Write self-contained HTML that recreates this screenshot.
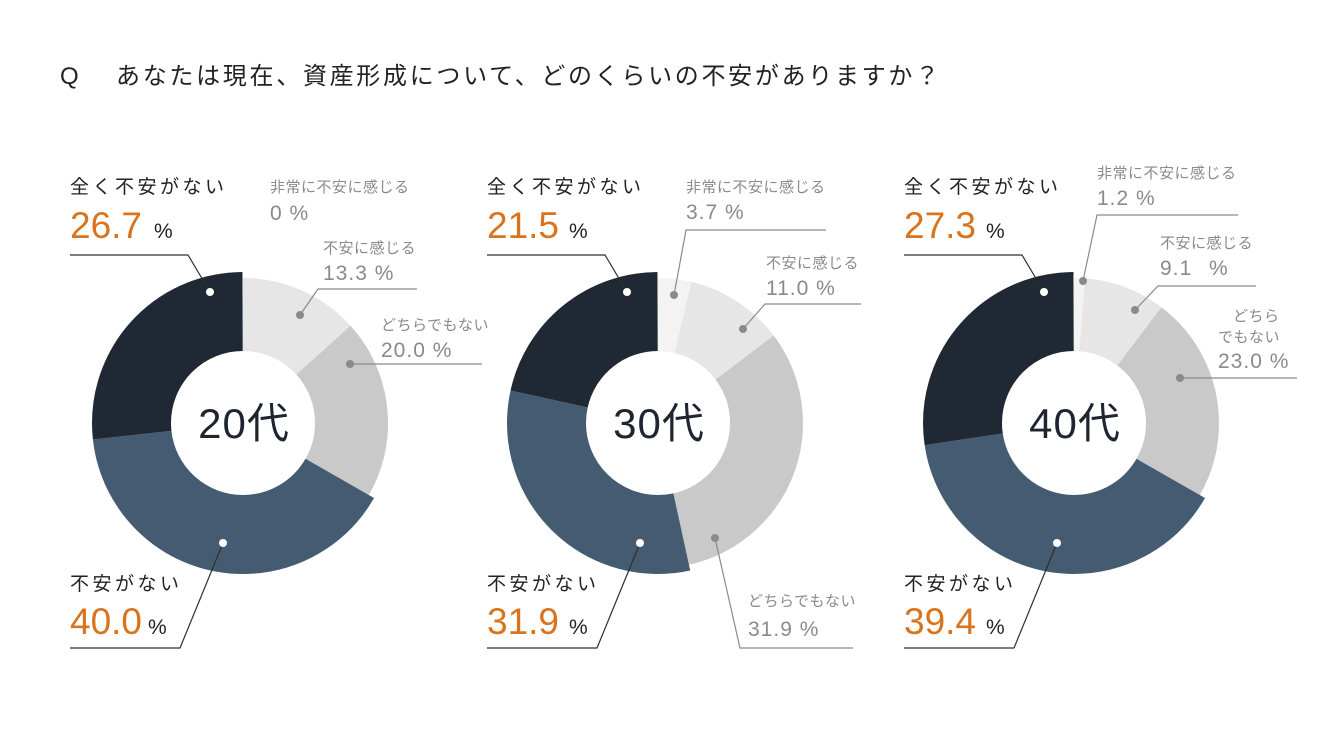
<!DOCTYPE html>
<html><head><meta charset="utf-8"><style>
html,body{margin:0;padding:0;background:#fff;}
svg{display:block;font-family:"Liberation Sans","Noto Sans CJK JP",sans-serif;}
.g{fill:#8a8a8a;font-size:15px;letter-spacing:0.5px;}
.gn{fill:#8a8a8a;font-size:21px;letter-spacing:1px;}
.k{fill:#222;font-size:19px;letter-spacing:3.5px;}
.o{fill:#d9741c;font-size:37px;}
.p{fill:#222;font-size:21px;}
.c{fill:#1e2530;font-size:42px;letter-spacing:1px;}
.ld{stroke:#2a2f36;stroke-width:1.2;fill:none;}
.lg{stroke:#8a8a8a;stroke-width:1.2;fill:none;}
</style></head><body>
<svg width="1320" height="743" viewBox="0 0 1320 743">
<text x="60" y="84" font-size="24" fill="#222">Q</text>
<text x="116" y="84" font-size="24" fill="#222" letter-spacing="2.7">あなたは現在、資産形成について、どのくらいの不安がありますか？</text>

<!-- donut 1 -->
<g transform="translate(243,423) rotate(-90)" fill="none">
<circle r="108.5" stroke="#e6e6e6" stroke-width="73" pathLength="100" stroke-dasharray="13.3 100" stroke-dashoffset="0"/>
<circle r="108.5" stroke="#c9c9c9" stroke-width="73" pathLength="100" stroke-dasharray="20 100" stroke-dashoffset="-13.3"/>
<circle r="111.5" stroke="#455b71" stroke-width="79" pathLength="100" stroke-dasharray="40 100" stroke-dashoffset="-33.3"/>
<circle r="111.5" stroke="#1f2833" stroke-width="79" pathLength="100" stroke-dasharray="26.7 100" stroke-dashoffset="-73.3"/>
</g>
<text x="244" y="438" text-anchor="middle" class="c">20代</text>
<text x="70" y="193" class="k">全く不安がない</text>
<text x="70" y="238" class="o">26.7<tspan class="p" dx="12">%</tspan></text>
<polyline class="ld" points="70,255 188,255 210,292"/>
<circle cx="210" cy="292" r="4" fill="#fff"/>
<text x="270" y="192" class="g">非常に不安に感じる</text>
<text x="270" y="220" class="gn">0 %</text>
<text x="323" y="253" class="g">不安に感じる</text>
<text x="323" y="280" class="gn">13.3 %</text>
<polyline class="lg" points="417,289 318,289 300,315"/>
<circle cx="300" cy="315" r="4" fill="#8a8a8a"/>
<text x="381" y="330" class="g">どちらでもない</text>
<text x="381" y="357" class="gn">20.0 %</text>
<polyline class="lg" points="350,364 482,364"/>
<circle cx="350" cy="364" r="4" fill="#8a8a8a"/>
<text x="70" y="590" class="k">不安がない</text>
<text x="70" y="634" class="o">40.0<tspan class="p" dx="6">%</tspan></text>
<polyline class="ld" points="70,648 180,648 223,543"/>
<circle cx="223" cy="543" r="4" fill="#fff"/>

<!-- donut 2 -->
<g transform="translate(658,423) rotate(-90)" fill="none">
<circle r="108.5" stroke="#f3f3f3" stroke-width="73" pathLength="100" stroke-dasharray="3.7 100" stroke-dashoffset="0"/>
<circle r="108.5" stroke="#e6e6e6" stroke-width="73" pathLength="100" stroke-dasharray="11 100" stroke-dashoffset="-3.7"/>
<circle r="108.5" stroke="#c9c9c9" stroke-width="73" pathLength="100" stroke-dasharray="31.9 100" stroke-dashoffset="-14.7"/>
<circle r="111.5" stroke="#455b71" stroke-width="79" pathLength="100" stroke-dasharray="31.9 100" stroke-dashoffset="-46.6"/>
<circle r="111.5" stroke="#1f2833" stroke-width="79" pathLength="100" stroke-dasharray="21.5 100" stroke-dashoffset="-78.5"/>
</g>
<text x="659" y="438" text-anchor="middle" class="c">30代</text>
<text x="487" y="193" class="k">全く不安がない</text>
<text x="487" y="238" class="o">21.5<tspan class="p" dx="10">%</tspan></text>
<polyline class="ld" points="487,255 605,255 627,292"/>
<circle cx="627" cy="292" r="4" fill="#fff"/>
<text x="686" y="192" class="g">非常に不安に感じる</text>
<text x="686" y="219" class="gn">3.7 %</text>
<polyline class="lg" points="826,230 686,230 674,295"/>
<circle cx="674" cy="295" r="4" fill="#8a8a8a"/>
<text x="766" y="268" class="g">不安に感じる</text>
<text x="766" y="295" class="gn">11.0 %</text>
<polyline class="lg" points="861,304 765,304 743,329"/>
<circle cx="743" cy="329" r="4" fill="#8a8a8a"/>
<text x="748" y="606" class="g">どちらでもない</text>
<text x="748" y="636" class="gn">31.9 %</text>
<polyline class="lg" points="853,648 740,648 715,538"/>
<circle cx="715" cy="538" r="4" fill="#8a8a8a"/>
<text x="487" y="590" class="k">不安がない</text>
<text x="487" y="634" class="o">31.9<tspan class="p" dx="10">%</tspan></text>
<polyline class="ld" points="487,648 597,648 640,543"/>
<circle cx="640" cy="543" r="4" fill="#fff"/>

<!-- donut 3 -->
<g transform="translate(1074,423) rotate(-90)" fill="none">
<circle r="108.5" stroke="#f3f3f3" stroke-width="73" pathLength="100" stroke-dasharray="1.2 100" stroke-dashoffset="0"/>
<circle r="108.5" stroke="#e6e6e6" stroke-width="73" pathLength="100" stroke-dasharray="9.1 100" stroke-dashoffset="-1.2"/>
<circle r="108.5" stroke="#c9c9c9" stroke-width="73" pathLength="100" stroke-dasharray="23 100" stroke-dashoffset="-10.3"/>
<circle r="111.5" stroke="#455b71" stroke-width="79" pathLength="100" stroke-dasharray="39.4 100" stroke-dashoffset="-33.3"/>
<circle r="111.5" stroke="#1f2833" stroke-width="79" pathLength="100" stroke-dasharray="27.3 100" stroke-dashoffset="-72.7"/>
</g>
<text x="1075" y="438" text-anchor="middle" class="c">40代</text>
<text x="904" y="193" class="k">全く不安がない</text>
<text x="904" y="238" class="o">27.3<tspan class="p" dx="10">%</tspan></text>
<polyline class="ld" points="904,255 1022,255 1044,292"/>
<circle cx="1044" cy="292" r="4" fill="#fff"/>
<text x="1097" y="178" class="g">非常に不安に感じる</text>
<text x="1097" y="205" class="gn">1.2 %</text>
<polyline class="lg" points="1238,215 1097,215 1083,281"/>
<circle cx="1083" cy="281" r="4" fill="#8a8a8a"/>
<text x="1160" y="248" class="g">不安に感じる</text>
<text x="1160" y="275" class="gn">9.1 <tspan dx="10">%</tspan></text>
<polyline class="lg" points="1256,286 1158,286 1135,310"/>
<circle cx="1135" cy="310" r="4" fill="#8a8a8a"/>
<text x="1233" y="321" class="g">どちら</text>
<text x="1218" y="342" class="g">でもない</text>
<text x="1218" y="368" class="gn">23.0 %</text>
<polyline class="lg" points="1180,378 1297,378"/>
<circle cx="1180" cy="378" r="4" fill="#8a8a8a"/>
<text x="904" y="590" class="k">不安がない</text>
<text x="904" y="634" class="o">39.4<tspan class="p" dx="10">%</tspan></text>
<polyline class="ld" points="904,648 1014,648 1057,543"/>
<circle cx="1057" cy="543" r="4" fill="#fff"/>
</svg>
</body></html>
